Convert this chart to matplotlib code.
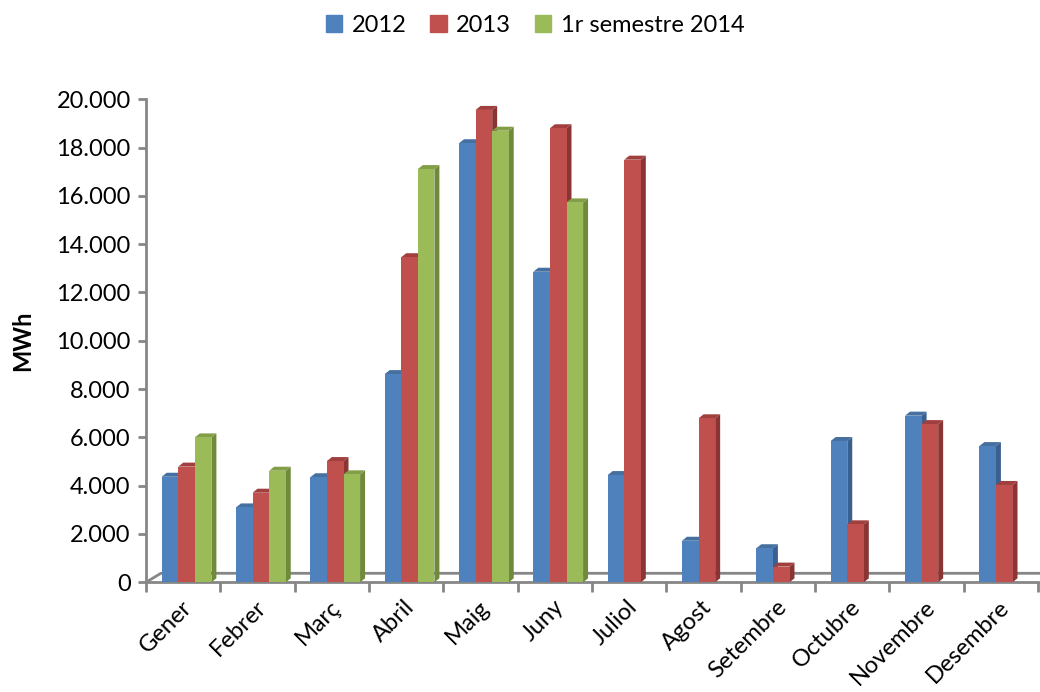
import numpy as np
import matplotlib.pyplot as plt
from matplotlib.patches import Polygon

plt.rcParams['font.family'] = ['Lato', 'DejaVu Sans']

# Dades (MWh), llegides del gràfic
mesos = ['Gener', 'Febrer', 'Març', 'Abril', 'Maig', 'Juny', 'Juliol',
         'Agost', 'Setembre', 'Octubre', 'Novembre', 'Desembre']
v2012 = [4370, 3100, 4350, 8620, 18180, 12860, 4440, 1720, 1410, 5850, 6900, 5640]
v2013 = [4790, 3710, 5020, 13460, 19560, 18800, 17500, 6790, 650, 2400, 6550, 4030]
v2014 = [6000, 4620, 4470, 17110, 18700, 15730, None, None, None, None, None, None]
series = ['2012', '2013', '1r semestre 2014']

# colors: cara frontal, lateral, superior
colors = [('#4F81BD', '#3A6090', '#45709F'),
          ('#C0504D', '#8A3533', '#A03F3D'),
          ('#9BBB59', '#6E8A3A', '#829E46')]

fig = plt.figure(figsize=(10.4, 6.92), dpi=100)
ax = fig.add_axes([146 / 1040, 1 - 582.3 / 692, 892 / 1040, 483 / 692])
ax.set_xlim(-0.5, 11.5)
ax.set_ylim(0, 20000)

gray = '#868686'
w = 0.223
off = 0.211
dx = 0.067
dy = 166

# terra (floor) del gràfic 3D
fdx, fdy = 0.2, 373
ax.plot([-0.5, -0.5 + fdx, 11.5 + fdx], [0, fdy, fdy], color=gray, lw=2,
        clip_on=False, zorder=1)

for i, vals in enumerate([v2012, v2013, v2014]):
    front, side, top = colors[i]
    for j, v in enumerate(vals):
        if v is None:
            continue
        x0 = j - 0.5 + off + i * w
        x1 = x0 + w
        ax.add_patch(Polygon([(x1, 0), (x1 + dx, dy), (x1 + dx, v + dy), (x1, v)],
                             closed=True, facecolor=side, edgecolor='none', zorder=3))
        ax.add_patch(Polygon([(x0, v), (x0 + dx, v + dy), (x1 + dx, v + dy), (x1, v)],
                             closed=True, facecolor=top, edgecolor='none', zorder=3))
        ax.add_patch(Polygon([(x0, 0), (x1, 0), (x1, v), (x0, v)],
                             closed=True, facecolor=front, edgecolor='none', zorder=4))

for s in ['top', 'right']:
    ax.spines[s].set_visible(False)
for s in ['left', 'bottom']:
    ax.spines[s].set_color(gray)
    ax.spines[s].set_linewidth(2)
    ax.spines[s].set_zorder(2)

yt = np.arange(0, 20001, 2000)
ax.set_yticks(yt)
ax.set_yticklabels([f'{v:,}'.replace(',', '.') for v in yt], fontsize=17)
ax.tick_params(axis='y', direction='out', length=6, width=2, color=gray, pad=5)

ax.set_xticks(np.arange(-0.5, 12, 1), minor=True)
ax.set_xticks(np.arange(12) - 0.03)
ax.set_xticklabels(mesos, rotation=45, ha='right', rotation_mode='anchor', fontsize=17)
ax.tick_params(axis='x', which='major', length=0, pad=10)
ax.tick_params(axis='x', which='minor', direction='out', length=7, width=2, color=gray)

ax.set_ylabel('MWh', fontsize=17, fontweight='bold', labelpad=16)

handles = [plt.Rectangle((0, 0), 1, 1, color=c[0]) for c in colors]
fig.legend(handles, series, loc='center', bbox_to_anchor=(535 / 1040, 1 - 25 / 692),
           ncol=3, frameon=False, fontsize=17, handlelength=0.7, handleheight=0.7,
           handletextpad=0.4, columnspacing=1.0)

fig.savefig('out.png', dpi=100)
